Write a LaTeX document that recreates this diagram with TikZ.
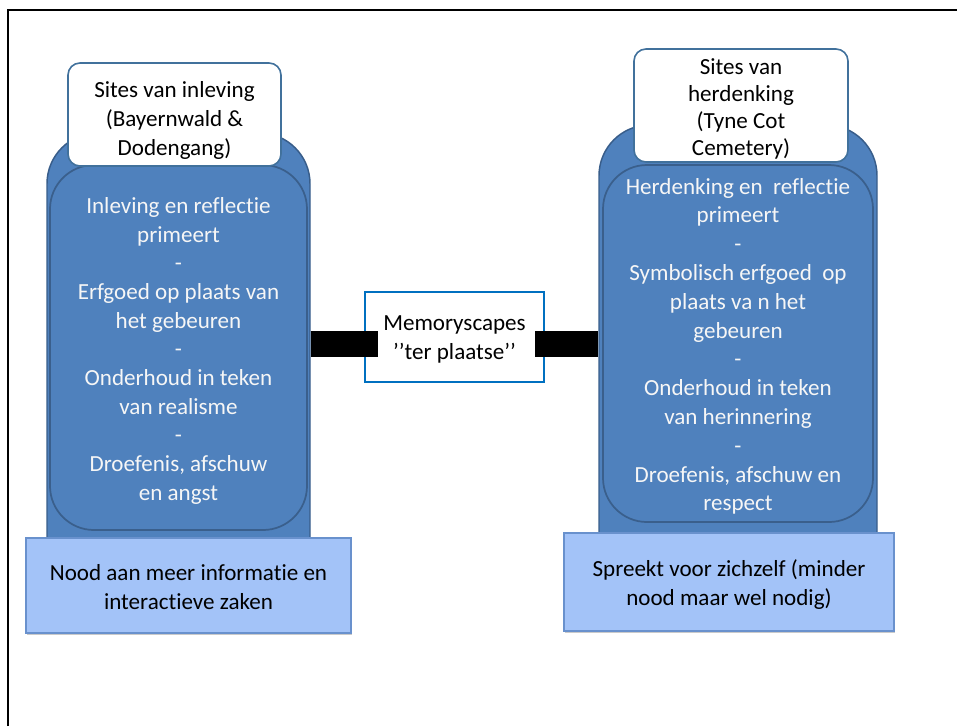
\documentclass[tikz,border=0pt]{standalone}
\usepackage{fontspec}
\setmainfont{Carlito}[Ligatures={NoCommon}]
\usetikzlibrary{fit,shadows}
\definecolor{outerfill}{RGB}{79,129,189}
\definecolor{outerline}{RGB}{56,93,138}
\definecolor{innerline}{RGB}{58,95,140}
\definecolor{titleline}{RGB}{65,113,156}
\definecolor{lightfill}{RGB}{163,195,248}
\definecolor{lightline}{RGB}{105,145,205}
\definecolor{midline}{RGB}{0,112,192}
\definecolor{txtwhite}{RGB}{246,246,246}
\tikzset{
  txt/.style={font=\fontsize{17.3}{21.5}\selectfont, align=center, inner sep=0pt},
  outerbox/.style={inner sep=0pt, fill=outerfill, draw=outerline, line width=1.1pt, rounded corners=38pt},
  innerbox/.style={inner sep=0pt, fill=outerfill, draw=innerline, line width=1.3pt, rounded corners=33pt},
  titlebox/.style={inner sep=0pt, fill=white, draw=titleline, line width=1.2pt, rounded corners=9pt},
  lightbox/.style={inner sep=0pt, fill=lightfill, draw=lightline, line width=0.8pt,
    drop shadow={shadow xshift=1pt, shadow yshift=-1.5pt, opacity=0.35, fill=black!60}},
  midbox/.style={inner sep=0pt, fill=white, draw=midline, line width=1.2pt},
  wtxt/.style={txt, text=txtwhite},
  btxt/.style={txt, text=black},
  bar/.style={line width=19.5pt, draw=black},
  frame/.style={line width=1.9pt, draw=black}
}
\begin{document}
\begin{tikzpicture}[x=0.75pt,y=-0.75pt]
\useasboundingbox (0,0) rectangle (957,726);
\coordinate (fA) at (8,726);
\coordinate (fB) at (8,10);
\coordinate (fC) at (957,10);
\draw[frame] (fA) -- (fB) -- (fC);

% left column
\node[outerbox, fit={(47,133) (310,600)}] (oL) {};
\node[innerbox, fit={(50,165) (307,530)}] (iL) {};
\node[wtxt] (iLt) at ([yshift=-2.5pt]iL.center) {Inleving en reflectie\\primeert\\-\\Erfgoed op plaats van\\het gebeuren\\-\\Onderhoud in teken\\van realisme\\-\\Droefenis, afschuw\\en angst};
\node[titlebox, fit={(68,63) (281,166)}] (tL) {};
\node[btxt, font=\fontsize{17.3}{21.6}\selectfont] (tLt) at ([yshift=-4.5pt]tL.center) {Sites van inleving\\(Bayernwald \&\\Dodengang)};
\node[lightbox, fit={(26,538) (351,633)}] (bL) {};
\node[btxt] (bLt) at ([yshift=-1pt]bL.center) {Nood aan meer informatie en\\interactieve zaken};

% right column
\node[outerbox, fit={(599,125) (877,590)}] (oR) {};
\node[innerbox, fit={(603,165) (873,522)}] (iR) {};
\node[wtxt, font=\fontsize{17.3}{21.6}\selectfont] (iRt) at ([yshift=-2.2pt]iR.center) {Herdenking en \ reflectie\\primeert\\-\\Symbolisch erfgoed \ op\\plaats va n het\\gebeuren\\-\\Onderhoud in teken\\van herinnering\\-\\Droefenis, afschuw en\\respect};
\node[titlebox, fit={(634,49) (848,162)}] (tR) {};
\node[btxt, font=\fontsize{17.3}{20.3}\selectfont] (tRt) at ([yshift=-2.8pt]tR.center) {Sites van\\herdenking\\(Tyne Cot\\Cemetery)};
\node[lightbox, fit={(564,533) (894,631)}] (bR) {};
\node[btxt] (bRt) at ([yshift=-2pt]bR.center) {Spreekt voor zichzelf (minder\\nood maar wel nodig)};

% middle
\node[midbox, fit={(365,292) (544,382)}] (mid) {};
\node[btxt] (midt) at ([yshift=-1.8pt]mid.center) {Memoryscapes\\’’ter plaatse’’};

\coordinate (barL) at (378,344);
\coordinate (barR) at (535,344);
\draw[bar] (oL.east |- barL) -- (barL);
\draw[bar] (barR) -- (oR.west |- barR);
\end{tikzpicture}
\end{document}
